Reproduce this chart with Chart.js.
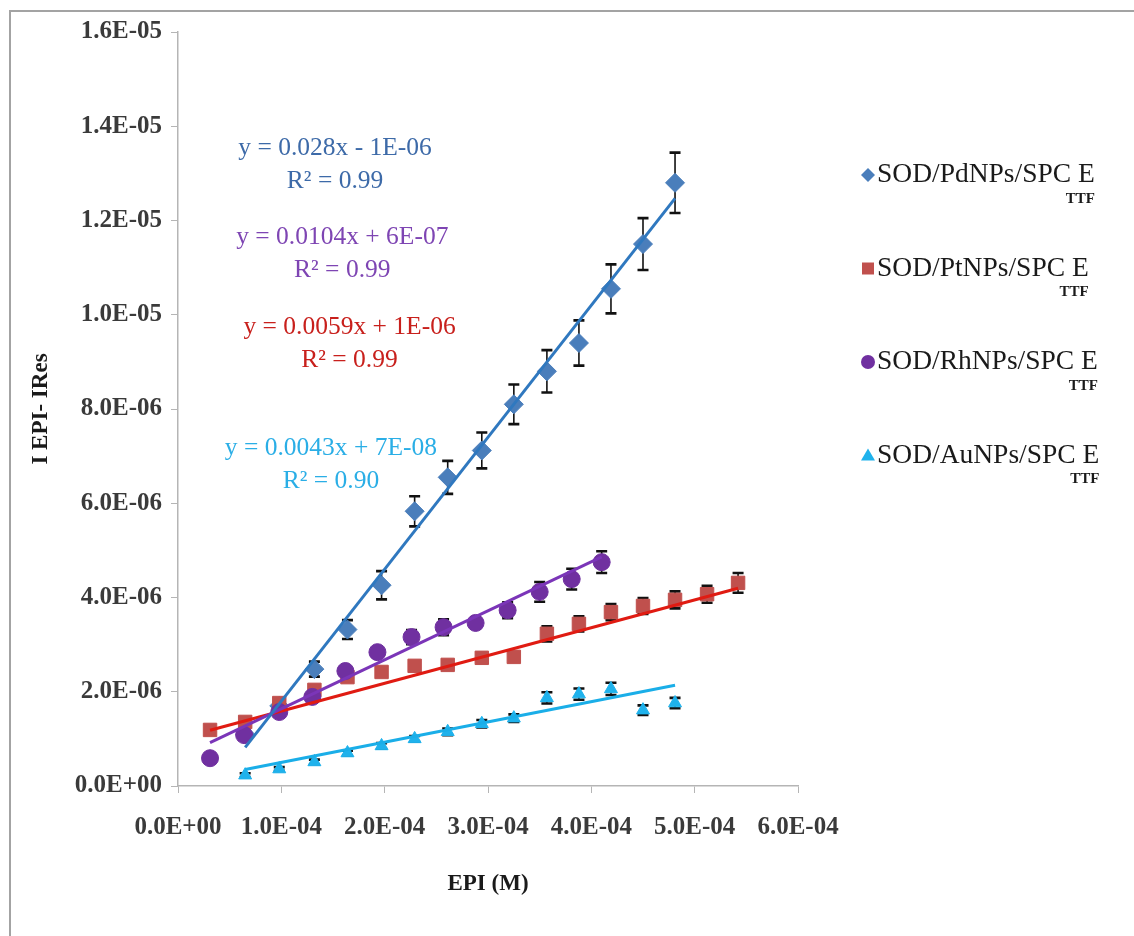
<!DOCTYPE html>
<html>
<head>
<meta charset="utf-8">
<title>EPI calibration</title>
<script src="https://cdn.jsdelivr.net/npm/chart.js@4.4.1/dist/chart.umd.min.js"></script>
<style>
  html, body { margin: 0; padding: 0; background: #fff; overflow: hidden; }
  #wrap { position: relative; width: 1134px; height: 936px; }
  #frame { position: absolute; left: 9px; top: 10px; width: 1200px; height: 1000px; border: 2px solid #a3a3a3; pointer-events: none; }
  #metricChart { position: absolute; left: 0; top: 0; }
</style>
</head>
<body>
<div id="wrap">
  <canvas id="metricChart" width="1134" height="936"></canvas>
  <div id="frame"></div>
</div>
<script>
// concentrations (M) and responses (A) per electrode
const xPd = [6.5e-5, 9.8e-5, 1.32e-4, 1.64e-4, 1.97e-4, 2.29e-4, 2.61e-4, 2.94e-4, 3.25e-4, 3.57e-4, 3.88e-4, 4.19e-4, 4.50e-4, 4.81e-4];
const yPd = [1.1e-6, 1.7e-6, 2.48e-6, 3.32e-6, 4.26e-6, 5.83e-6, 6.55e-6, 7.12e-6, 8.1e-6, 8.8e-6, 9.4e-6, 1.055e-5, 1.15e-5, 1.28e-5];
const ePd = [1.0e-7, 1.2e-7, 1.6e-7, 2.0e-7, 3.0e-7, 3.2e-7, 3.5e-7, 3.8e-7, 4.2e-7, 4.5e-7, 4.8e-7, 5.2e-7, 5.5e-7, 6.4e-7];

const xPt = [3.1e-5, 6.5e-5, 9.8e-5, 1.32e-4, 1.64e-4, 1.97e-4, 2.29e-4, 2.61e-4, 2.94e-4, 3.25e-4, 3.57e-4, 3.88e-4, 4.19e-4, 4.50e-4, 4.81e-4, 5.12e-4, 5.42e-4];
const yPt = [1.19e-6, 1.36e-6, 1.76e-6, 2.04e-6, 2.31e-6, 2.42e-6, 2.55e-6, 2.57e-6, 2.72e-6, 2.74e-6, 3.23e-6, 3.44e-6, 3.69e-6, 3.82e-6, 3.95e-6, 4.07e-6, 4.31e-6];
const ePt = [5e-8, 5e-8, 6e-8, 7e-8, 8e-8, 8e-8, 8e-8, 8e-8, 1.0e-7, 1.0e-7, 1.6e-7, 1.6e-7, 1.7e-7, 1.7e-7, 1.8e-7, 1.8e-7, 2.1e-7];

const xRh = [3.1e-5, 6.4e-5, 9.8e-5, 1.30e-4, 1.62e-4, 1.93e-4, 2.26e-4, 2.57e-4, 2.88e-4, 3.19e-4, 3.50e-4, 3.81e-4, 4.10e-4];
const yRh = [5.9e-7, 1.08e-6, 1.57e-6, 1.89e-6, 2.44e-6, 2.84e-6, 3.16e-6, 3.37e-6, 3.46e-6, 3.73e-6, 4.12e-6, 4.39e-6, 4.75e-6];
const eRh = [5e-8, 5e-8, 6e-8, 7e-8, 8e-8, 1.0e-7, 1.5e-7, 1.7e-7, 1.2e-7, 1.7e-7, 2.1e-7, 2.2e-7, 2.3e-7];

const xAu = [6.5e-5, 9.8e-5, 1.32e-4, 1.64e-4, 1.97e-4, 2.29e-4, 2.61e-4, 2.94e-4, 3.25e-4, 3.57e-4, 3.88e-4, 4.19e-4, 4.50e-4, 4.81e-4];
const yAu = [2.3e-7, 3.6e-7, 5.1e-7, 7.0e-7, 8.5e-7, 1.0e-6, 1.15e-6, 1.32e-6, 1.44e-6, 1.87e-6, 1.95e-6, 2.06e-6, 1.61e-6, 1.76e-6];
const eAu = [4e-8, 4e-8, 5e-8, 5e-8, 6e-8, 6e-8, 7e-8, 8e-8, 8e-8, 1.2e-7, 1.2e-7, 1.3e-7, 1.0e-7, 1.1e-7];

const seriesNames = ['SOD/PdNPs/SPC E', 'SOD/PtNPs/SPC E', 'SOD/RhNPs/SPC E', 'SOD/AuNPs/SPC E'];
const subLabel = 'TTF';

// linear fits, as printed next to the curves
const fitSlope = [0.028, 0.0104, 0.0059, 0.0043];
const fitIntercept = [-1e-6, 6e-7, 1e-6, 7e-8];
const fitSeries = [0, 2, 1, 3];            // which series each fit belongs to
const eqText = ['y = 0.028x - 1E-06', 'y = 0.0104x + 6E-07', 'y = 0.0059x + 1E-06', 'y = 0.0043x + 7E-08'];
const r2Text = ['R\u00b2 = 0.99', 'R\u00b2 = 0.99', 'R\u00b2 = 0.99', 'R\u00b2 = 0.90'];
const eqX = [1.52e-4, 1.59e-4, 1.66e-4, 1.48e-4];
const eqY = [1.354e-5, 1.165e-5, 9.74e-6, 7.17e-6];

const xTickStep = 1e-4;
const yTickStep = 2e-6;

const xs = [xPd, xPt, xRh, xAu];
const ys = [yPd, yPt, yRh, yAu];
const errs = [ePd, ePt, eRh, eAu];
const markerColor = ['#4a7ebb', '#c0504d', '#7030a0', '#1fb2ec'];
const lineColor = ['#2f78bf', '#e01b12', '#7b35b8', '#1aaee8'];
const eqColor = ['#3d6aa8', '#7e45b3', '#c8201c', '#2aaee6'];   // one per fit
const pointStyles = ['rectRot', 'rect', 'circle', 'triangle'];
const pointRadii = [9.5, 9.5, 8.5, 7.5];

const SERIF = '"Liberation Serif", "Times New Roman", serif';

function sci(v) {
  if (Math.abs(v) < 1e-20) return '0.0E+00';
  const parts = v.toExponential(1).split('e');
  const ex = parseInt(parts[1], 10);
  return parts[0] + 'E' + (ex < 0 ? '-' : '+') + String(Math.abs(ex)).padStart(2, '0');
}

function toPoints(xv, yv) {
  return xv.map((x, i) => ({ x: x, y: yv[i] }));
}

const datasets = [];

// fit lines, drawn over the markers
fitSeries.forEach((s, k) => {
  const x0 = Math.min(...xs[s]);
  const x1 = Math.max(...xs[s]);
  datasets.push({
    label: 'fit' + k,
    data: [{ x: x0, y: fitSlope[k] * x0 + fitIntercept[k] }, { x: x1, y: fitSlope[k] * x1 + fitIntercept[k] }],
    showLine: true,
    borderColor: lineColor[s],
    borderWidth: 3,
    pointRadius: 0,
    order: k
  });
});

// markers: Pd at the bottom, Au on top
seriesNames.forEach((name, s) => {
  datasets.push({
    label: name,
    data: toPoints(xs[s], ys[s]),
    showLine: false,
    pointStyle: pointStyles[s],
    pointRadius: pointRadii[s],
    pointBackgroundColor: markerColor[s],
    pointBorderColor: markerColor[s],
    pointBorderWidth: 1,
    errors: errs[s],
    order: 10 - s
  });
});

const errorBars = {
  id: 'errorBars',
  beforeDatasetsDraw(chart) {
    const { ctx, scales } = chart;
    ctx.save();
    ctx.strokeStyle = '#111';
    chart.data.datasets.forEach(ds => {
      if (!ds.errors) return;
      ds.data.forEach((p, i) => {
        const px = scales.x.getPixelForValue(p.x);
        const top = scales.y.getPixelForValue(p.y + ds.errors[i]);
        const bot = scales.y.getPixelForValue(p.y - ds.errors[i]);
        ctx.lineWidth = 1.6;
        ctx.beginPath();
        ctx.moveTo(px, top);
        ctx.lineTo(px, bot);
        ctx.stroke();
        ctx.lineWidth = 2.6;
        ctx.beginPath();
        ctx.moveTo(px - 5.5, top);
        ctx.lineTo(px + 5.5, top);
        ctx.moveTo(px - 5.5, bot);
        ctx.lineTo(px + 5.5, bot);
        ctx.stroke();
      });
    });
    ctx.restore();
  }
};

const fitLabels = {
  id: 'fitLabels',
  afterDatasetsDraw(chart) {
    const { ctx, scales } = chart;
    ctx.save();
    ctx.font = '25.5px ' + SERIF;
    ctx.textAlign = 'center';
    ctx.textBaseline = 'middle';
    eqText.forEach((t, k) => {
      const px = scales.x.getPixelForValue(eqX[k]);
      const py = scales.y.getPixelForValue(eqY[k]);
      ctx.fillStyle = eqColor[k];
      ctx.fillText(t, px, py);
      ctx.fillText(r2Text[k], px, py + 33);
    });
    ctx.restore();
  }
};

function drawMarker(ctx, style, x, y) {
  ctx.beginPath();
  if (style === 'rectRot') {
    ctx.moveTo(x, y - 7); ctx.lineTo(x + 7, y); ctx.lineTo(x, y + 7); ctx.lineTo(x - 7, y);
  } else if (style === 'rect') {
    ctx.rect(x - 6, y - 6, 12, 12);
  } else if (style === 'circle') {
    ctx.arc(x, y, 7, 0, Math.PI * 2);
  } else {
    ctx.moveTo(x, y - 7); ctx.lineTo(x + 7, y + 5); ctx.lineTo(x - 7, y + 5);
  }
  ctx.closePath();
  ctx.fill();
}

const sideLegend = {
  id: 'sideLegend',
  afterDraw(chart) {
    const { ctx, chartArea } = chart;
    const x0 = chartArea.right + 70;
    ctx.save();
    ctx.textBaseline = 'middle';
    seriesNames.forEach((name, s) => {
      const y = chartArea.top + 143 + s * 93.5;
      ctx.fillStyle = markerColor[s];
      drawMarker(ctx, pointStyles[s], x0, y);
      ctx.fillStyle = '#1a1a1a';
      ctx.textAlign = 'left';
      ctx.font = '27.5px ' + SERIF;
      ctx.fillText(name, x0 + 9, y);
      const w = ctx.measureText(name).width;
      ctx.textAlign = 'right';
      ctx.font = 'bold 15px ' + SERIF;
      ctx.fillText(subLabel, x0 + 9 + w, y + 24);
    });
    ctx.restore();
  }
};

const tickFont = { family: SERIF, weight: 'bold', size: 25 };

new Chart(document.getElementById('metricChart'), {
  type: 'scatter',
  data: { datasets: datasets },
  options: {
    responsive: false,
    animation: false,
    layout: { padding: { left: 0, right: 336, top: 32, bottom: 0 } },
    plugins: {
      legend: { display: false },
      tooltip: { enabled: false }
    },
    scales: {
      x: {
        type: 'linear',
        min: 0,
        max: 6e-4,
        afterFit(scale) { scale.height = 150; },
        ticks: { stepSize: xTickStep, callback: v => sci(v), font: tickFont, color: '#3a3a3a', padding: 20, maxRotation: 0, autoSkip: false },
        grid: { drawOnChartArea: false, tickLength: 7, color: '#b5b5b5' },
        border: { color: '#b5b5b5', width: 1.5 },
        title: { display: true, text: 'EPI (M)', font: { family: SERIF, weight: 'bold', size: 23 }, color: '#1a1a1a', padding: { top: 0, bottom: 38 } }
      },
      y: {
        min: 0,
        max: 1.6e-5,
        afterFit(scale) { scale.width = 178; },
        ticks: { stepSize: yTickStep, callback: v => sci(v), font: tickFont, color: '#3a3a3a', padding: 9 },
        grid: { drawOnChartArea: false, tickLength: 7, color: '#b5b5b5' },
        border: { color: '#b5b5b5', width: 1.5 },
        title: { display: true, text: 'I EPI- IRes', font: { family: SERIF, weight: 'bold', size: 23 }, color: '#1a1a1a', padding: { top: 27, bottom: 0 } }
      }
    }
  },
  plugins: [errorBars, fitLabels, sideLegend]
});
</script>
</body>
</html>
